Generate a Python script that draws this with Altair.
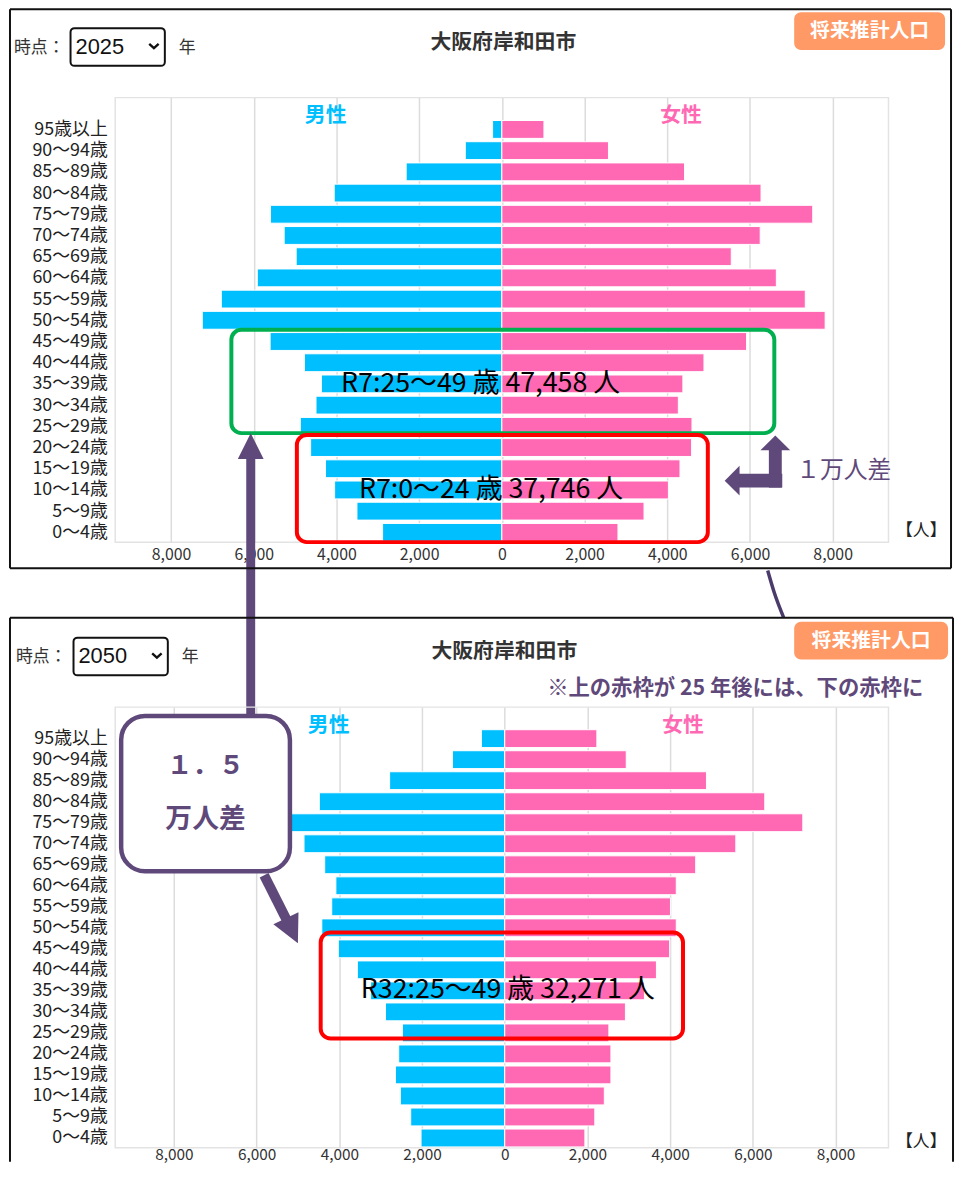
import altair as alt
import pandas as pd

# ---------------- data ----------------
ages = ["0～4歳", "5～9歳", "10～14歳", "15～19歳", "20～24歳", "25～29歳", "30～34歳",
        "35～39歳", "40～44歳", "45～49歳", "50～54歳", "55～59歳", "60～64歳", "65～69歳",
        "70～74歳", "75～79歳", "80～84歳", "85～89歳", "90～94歳", "95歳以上"]
male_2025 = [2860, 3480, 4020, 4240, 4600, 4850, 4470, 4340, 4750, 5580,
             7220, 6760, 5890, 4950, 5240, 5570, 4030, 2290, 860, 200]
female_2025 = [2760, 3390, 3980, 4260, 4540, 4550, 4220, 4330, 4840, 5870,
               7770, 7290, 6590, 5500, 6200, 7470, 6220, 4370, 2530, 970]
male_2050 = [2000, 2250, 2500, 2620, 2540, 2450, 2860, 3220, 3540, 4000,
             4400, 4160, 4060, 4330, 4830, 5600, 4460, 2760, 1240, 540]
female_2050 = [1890, 2130, 2360, 2520, 2520, 2470, 2870, 3330, 3620, 3940,
               4100, 3960, 4100, 4570, 5540, 7160, 6240, 4830, 2890, 2180]
x_ticks = [-8000, -6000, -4000, -2000, 0, 2000, 4000, 6000, 8000]
years = ["2025", "2050"]
title_text = "大阪府岸和田市"
button_text = "将来推計人口"
note_text = "※上の赤枠が 25 年後には、下の赤枠に"
box_texts_2025 = ["R7:25～49 歳  47,458 人", "R7:0～24 歳  37,746 人"]
box_text_2050 = "R32:25～49 歳  32,271 人"

# ---------------- style ----------------
FONT = "Noto Sans CJK JP"
MALE_C = "#00BFFF"
FEMALE_C = "#FF69B4"
PURPLE = "#5F497A"
GREEN = "#00B050"
RED = "#FF0000"
ORANGE = "#FF9966"
W = 779
YDOM = [-0.47, 20.5]
ONE = pd.DataFrame({"d": [0]})

label_expr = "[" + ",".join("'" + a + "'" for a in ages) + "][datum.value]"


def make_xaxis(pad, size):
    return alt.Axis(values=x_ticks, labelExpr="format(abs(datum.value), ',')", grid=True,
                    gridColor="#dcdcdc", gridWidth=1.5, domain=False, ticks=False,
                    labelFontSize=size, labelColor="#333333", labelFont=FONT,
                    labelPadding=pad, title="")


yaxis = alt.Axis(values=list(range(len(ages))), labelExpr=label_expr, grid=False,
                 domain=False, ticks=False, labelFontSize=18, labelColor="#222222",
                 labelFont=FONT, labelPadding=8, labelOverlap=False, title="")


def panel(year, male, female, xdom, height, xpad, xsize, data_ann, pix_ann):
    xs = alt.Scale(domain=xdom, nice=False, zero=False, padding=0)
    ys = alt.Scale(domain=YDOM, nice=False, zero=False, padding=0)
    xaxis = make_xaxis(xpad, xsize)

    def X(f):
        return alt.X(f, type="quantitative", scale=xs, axis=xaxis)

    def Y(f):
        return alt.Y(f, type="quantitative", scale=ys, axis=yaxis)

    mdf = pd.DataFrame({"idx": list(range(len(ages))), "v": [-m for m in male], "base": 0})
    fdf = pd.DataFrame({"idx": list(range(len(ages))), "v": female, "base": 0})
    layers = [
        alt.Chart(mdf).mark_bar(orient="horizontal", size=18, color=MALE_C, stroke="white",
                                strokeWidth=1, xOffset=-1)
        .encode(x=X("v"), x2="base", y=Y("idx")),
        alt.Chart(fdf).mark_bar(orient="horizontal", size=18, color=FEMALE_C, stroke="white",
                                strokeWidth=1, xOffset=2)
        .encode(x=X("v"), x2="base", y=Y("idx")),
    ]

    def dtext(txt, x, y, size, color, weight="normal", align="center", dx=0):
        df = pd.DataFrame({"x": [x], "y": [y]})
        return alt.Chart(df).mark_text(text=txt, fontSize=size, color=color, fontWeight=weight,
                                       align=align, baseline="middle", font=FONT, dx=dx
                                       ).encode(x=X("x"), y=Y("y"))

    def box(x1, x2, y1, y2, stroke, sw, radius, fill=""):
        df = pd.DataFrame({"x1": [x1], "x2": [x2], "y1": [y1], "y2": [y2]})
        if fill:
            m = alt.Chart(df).mark_rect(stroke=stroke, strokeWidth=sw, cornerRadius=radius,
                                        fill=fill, fillOpacity=1)
        else:
            m = alt.Chart(df).mark_rect(stroke=stroke, strokeWidth=sw, cornerRadius=radius,
                                        fillOpacity=0)
        return m.encode(x=X("x1"), x2="x2", y=Y("y1"), y2="y2")

    def rule(x1, x2, y1, y2, sw, color=PURPLE):
        df = pd.DataFrame({"x1": [x1], "x2": [x2], "y1": [y1], "y2": [y2]})
        return alt.Chart(df).mark_rule(strokeWidth=sw, color=color).encode(
            x=X("x1"), x2="x2", y=Y("y1"), y2="y2")

    def head(x, y, shape, size, angle=0):
        df = pd.DataFrame({"x": [x], "y": [y]})
        return alt.Chart(df).mark_point(shape=shape, size=size, filled=True, color=PURPLE,
                                        opacity=1, strokeWidth=0, angle=angle
                                        ).encode(x=X("x"), y=Y("y"))

    def curve(xs_, ys_, sw, color):
        df = pd.DataFrame({"x": xs_, "y": ys_, "o": list(range(len(xs_)))})
        return alt.Chart(df).mark_line(strokeWidth=sw, color=color, interpolate="monotone"
                                       ).encode(x=X("x"), y=Y("y"), order="o:Q")

    tools = dict(dtext=dtext, box=box, rule=rule, head=head, curve=curve)
    layers += data_ann(tools)

    # ---- page chrome (pixel offsets relative to plot area) ----
    def ptext(txt, x, y, size, color="#333333", weight="normal", align="left", font=FONT):
        return alt.Chart(ONE).mark_text(text=txt, fontSize=size, color=color, fontWeight=weight,
                                        align=align, baseline="middle", font=font
                                        ).encode(x=alt.value(x), y=alt.value(y))

    def prect(x1, x2, y1, y2, **kw):
        return alt.Chart(ONE).mark_rect(**kw).encode(x=alt.value(x1), x2=alt.value(x2),
                                                     y=alt.value(y1), y2=alt.value(y2))

    def pline(x1, x2, y1, y2):
        return alt.Chart(ONE).mark_rule(color="#111111", strokeWidth=2).encode(
            x=alt.value(x1), x2=alt.value(x2), y=alt.value(y1), y2=alt.value(y2))

    p = pix_ann
    bx1, bx2, by1, by2 = p["bx1"], p["bx2"], p["by1"], p["by2"]
    border = [pline(bx1, bx2, by1, by1), pline(bx1, bx1, by1, by2), pline(bx2, bx2, by1, by2)]
    if p["closed"]:
        border.append(pline(bx1, bx2, by2, by2))
    layers += border + [
        ptext("時点：", p["tx"], -50, 17),
        prect(p["dx1"], p["dx1"] + 95, -70, -32, stroke="#111111", strokeWidth=2,
              cornerRadius=4, fill="white", fillOpacity=1),
        ptext(year, p["dx1"] + 5, -51, 22, color="#111111", font="Liberation Sans"),
        alt.Chart(ONE).mark_point(shape="M-1,-0.45L0,0.45L1,-0.45", size=90, filled=False,
                                  stroke="#111111", strokeWidth=2.4, opacity=1)
        .encode(x=alt.value(p["dx1"] + 84), y=alt.value(-52)),
        ptext("年", p["dx1"] + 109, -50, 17),
        ptext(title_text, p["title_x"], p["title_y"], 21, color="#333333", weight="bold",
              align="center"),
        prect(684, p["btn_x2"], -86, -48, fill=ORANGE, fillOpacity=1, cornerRadius=7),
        ptext(button_text, (684 + p["btn_x2"]) / 2, -67, 20, color="white", weight="bold",
              align="center"),
        ptext("【人】", p["unit_x"], p["unit_y"], 17, color="#222222", align="center"),
    ]
    layers += p.get("extra", lambda f: [])(ptext)
    return alt.layer(*layers).properties(width=W, height=height)


# ---------------- top panel (2025) ----------------
def top_ann(t):
    return [
        t["dtext"]("男性", -4261, 19.61, 21, MALE_C, "bold"),
        t["dtext"]("女性", 4333, 19.61, 21, FEMALE_C, "bold"),
        t["box"](-6541, 6589, 4.68, 9.55, GREEN, 4, 10),
        t["box"](-4957, 4981, -0.46, 4.59, RED, 4, 10),
        t["dtext"](box_texts_2025[0], 0, 7, 27, "#000000", "normal", "left", -162),
        t["dtext"](box_texts_2025[1], 0, 2, 27, "#000000", "normal", "left", -144),
        # elbow arrow
        t["rule"](6613, 6613, 2.11, 3.95, 13),
        t["rule"](5725, 6781, 2.44, 2.44, 14),
        t["head"](6613, 4.22, "M0,-0.5L1,0.5L-1,0.5Z", 900),
        t["head"](5569, 2.44, "M-0.5,0L0.5,-1L0.5,1Z", 900),
        t["dtext"]("１万人差", 7117, 2.9, 24, PURPLE, "normal", "left"),
        # long vertical arrow (from lower box up to green box)
        t["rule"](-6073, -6073, -8.7, 3.5, 9),
        t["head"](-6073, 4.07, "M0,-1L1,1L-1,1Z", 676),
    ]


top = panel(years[0], male_2025, female_2025, [-9350, 9350], 448, 4, 16, top_ann,
            dict(bx1=-106, bx2=842, by1=-89, by2=474, closed=True, tx=-102, dx1=-45,
                 title_x=391, title_y=-55, btn_x2=836, unit_x=812, unit_y=437))


# ---------------- bottom panel (2050) ----------------
def bottom_ann(t):
    return [
        t["dtext"]("男性", -4259, 19.61, 21, MALE_C, "bold"),
        t["dtext"]("女性", 4311, 19.61, 21, FEMALE_C, "bold"),
        t["box"](-4451, 4311, 4.73, 9.78, RED, 4, 10),
        t["dtext"](box_text_2050, 0, 7.05, 27, "#000000", "normal", "left", -145),
        t["box"](-9276, -5195, 12.69, 20.08, PURPLE, 4.5, 24, fill="white"),
        t["dtext"]("１．５", -7236, 17.69, 26, PURPLE, "bold"),
        t["dtext"]("万人差", -7236, 15.12, 27, PURPLE, "bold"),
        t["rule"](-5819, -5243, 12.5, 10.25, 10),
        t["head"](-5147, 9.86, "M0,-1L1,1L-1,1Z", 784, 154.5),
        t["curve"]([6359, 6519, 6743], [27.0, 25.94, 24.77], 3.5, "#4B3B6B"),
    ]


def bottom_extra(ptext):
    return [ptext(note_text, 814, -18, 21.5, color=PURPLE, weight="bold", align="right")]


bottom = panel(years[1], male_2050, female_2050, [-9420, 9280], 444, 0, 15.5, bottom_ann,
               dict(bx1=-106, bx2=844, by1=-90, by2=458, closed=False, tx=-100, dx1=-42,
                    title_x=392, title_y=-55, btn_x2=839, unit_x=812, unit_y=438,
                    extra=bottom_extra))

chart = (
    alt.vconcat(top, bottom, spacing=166, bounds="flush")
    .properties(padding={"left": 0, "top": -5, "right": 0, "bottom": 0}, background="white")
    .configure(font=FONT)
    .configure_view(stroke="#e3e3e3", strokeWidth=1.5)
)

chart.save("out.html", embed_options={"renderer": "svg", "actions": False})
